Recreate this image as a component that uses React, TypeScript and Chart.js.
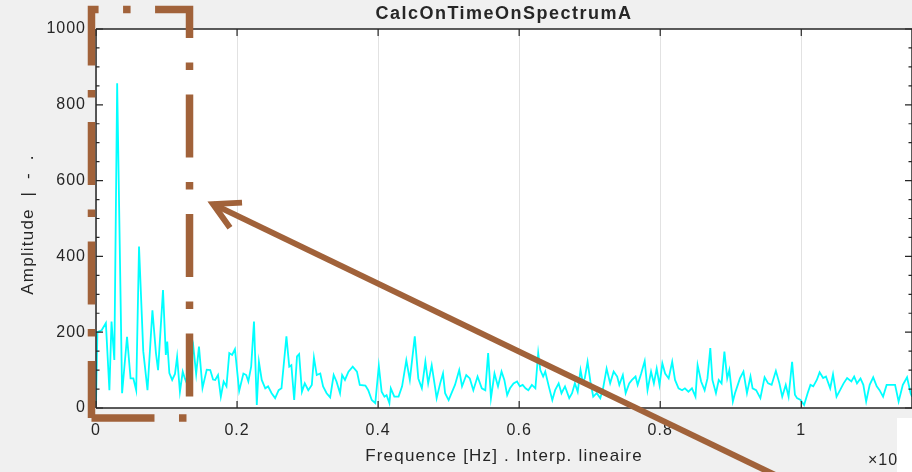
import React, { useEffect, useRef } from 'react';
import { Chart, registerables } from 'chart.js';

Chart.register(...registerables);

const TITLE = 'CalcOnTimeOnSpectrumA';
const X_LABEL = 'Frequence [Hz] . Interp. lineaire';
const Y_LABEL = 'Amplitude  |  -  .';
const X_EXPONENT = '\u00d710';
const X_EXPONENT_POWER = '4';
const X_TICKS = [0, 0.2, 0.4, 0.6, 0.8, 1];
const Y_TICKS = [0, 200, 400, 600, 800, 1000];
const Y_MINOR_STEP = 50;
const X_MAX = 1.157;

const frequency = [
  0, 0.002, 0.008, 0.014, 0.019, 0.022, 0.026, 0.03, 0.037, 0.044, 0.049, 0.053, 0.057, 0.061, 0.067, 0.073,
  0.08, 0.085, 0.088, 0.095, 0.099, 0.101, 0.104, 0.108, 0.112, 0.115, 0.119, 0.123, 0.126, 0.13, 0.133, 0.138,
  0.142, 0.146, 0.151, 0.157, 0.162, 0.166, 0.169, 0.173, 0.177, 0.181, 0.185, 0.189, 0.193, 0.197, 0.203, 0.209,
  0.213, 0.216, 0.22, 0.224, 0.228, 0.231, 0.235, 0.24, 0.244, 0.249, 0.254, 0.259, 0.263, 0.27, 0.274, 0.277,
  0.281, 0.285, 0.288, 0.292, 0.296, 0.301, 0.306, 0.309, 0.313, 0.318, 0.322, 0.327, 0.332, 0.337, 0.341, 0.346,
  0.349, 0.353, 0.358, 0.364, 0.37, 0.374, 0.382, 0.386, 0.391, 0.396, 0.401, 0.405, 0.409, 0.412, 0.416, 0.418,
  0.423, 0.429, 0.434, 0.44, 0.445, 0.452, 0.457, 0.462, 0.467, 0.471, 0.476, 0.481, 0.483, 0.488, 0.492, 0.495,
  0.5, 0.505, 0.509, 0.515, 0.519, 0.525, 0.53, 0.535, 0.541, 0.547, 0.552, 0.556, 0.56, 0.565, 0.57, 0.575,
  0.579, 0.583, 0.587, 0.592, 0.597, 0.601, 0.605, 0.609, 0.613, 0.618, 0.623, 0.627, 0.63, 0.634, 0.637, 0.642,
  0.647, 0.651, 0.656, 0.66, 0.665, 0.671, 0.675, 0.679, 0.683, 0.687, 0.69, 0.693, 0.697, 0.701, 0.705, 0.71,
  0.715, 0.719, 0.724, 0.729, 0.734, 0.739, 0.742, 0.747, 0.751, 0.756, 0.76, 0.765, 0.768, 0.773, 0.778, 0.782,
  0.787, 0.791, 0.795, 0.799, 0.803, 0.807, 0.812, 0.817, 0.821, 0.826, 0.831, 0.835, 0.84, 0.845, 0.85, 0.853,
  0.858, 0.863, 0.867, 0.871, 0.874, 0.879, 0.883, 0.887, 0.891, 0.895, 0.898, 0.903, 0.906, 0.91, 0.913, 0.918,
  0.923, 0.928, 0.931, 0.936, 0.942, 0.948, 0.953, 0.958, 0.964, 0.969, 0.973, 0.978, 0.982, 0.987, 0.991, 0.994,
  0.999, 1.004, 1.009, 1.013, 1.017, 1.022, 1.026, 1.031, 1.035, 1.041, 1.045, 1.05, 1.055, 1.06, 1.065, 1.071,
  1.075, 1.079, 1.084, 1.088, 1.092, 1.097, 1.102, 1.107, 1.111, 1.116, 1.121, 1.126, 1.133, 1.138, 1.144, 1.15,
  1.155, 1.157,
];

const amplitude = [
  10, 200, 205, 224, 47, 228, 127, 857, 39, 188, 78, 78, 47, 426, 150, 47,
  258, 145, 100, 311, 140, 175, 92, 74, 90, 135, 43, 96, 78, 60, 100, 162,
  90, 162, 53, 101, 100, 75, 74, 87, 30, 70, 57, 145, 140, 155, 45, 91,
  87, 70, 109, 228, 8, 122, 74, 52, 57, 39, 26, 47, 52, 189, 109, 113,
  21, 136, 142, 43, 65, 47, 61, 133, 87, 91, 57, 39, 28, 87, 70, 39,
  87, 74, 96, 109, 96, 61, 59, 47, 21, 13, 111, 43, 30, 34, 13, 52,
  30, 30, 57, 126, 74, 189, 78, 52, 122, 65, 113, 52, 26, 65, 91, 39,
  21, 43, 61, 100, 57, 87, 78, 47, 83, 52, 47, 145, 26, 91, 57, 96,
  74, 34, 52, 65, 70, 57, 61, 52, 47, 61, 52, 145, 100, 83, 96, 57,
  21, 47, 65, 39, 57, 26, 39, 65, 43, 100, 70, 78, 122, 70, 30, 39,
  26, 52, 104, 65, 96, 83, 61, 87, 39, 65, 74, 83, 61, 91, 124, 47,
  96, 65, 104, 61, 118, 91, 78, 122, 74, 52, 47, 52, 43, 52, 30, 113,
  70, 47, 78, 158, 74, 39, 74, 65, 149, 78, 100, 17, 39, 61, 78, 96,
  39, 83, 52, 47, 26, 81, 65, 61, 98, 65, 30, 61, 30, 122, 35, 26,
  21, 8, 39, 61, 57, 74, 94, 79, 83, 52, 89, 30, 47, 65, 79, 70,
  83, 65, 78, 61, 17, 61, 81, 57, 47, 30, 61, 61, 61, 17, 61, 81,
  39, 30,
];

// Overlay annotation (in data units of the axes)
const BOX_X = [-0.0064, 0.1326];
const BOX_Y = [-26.4, 1051.5];
const ARROW_FROM = [0.98, -192];
const ARROW_TO = [0.166, 538];

const FONT = '"Liberation Sans", Arial, Helvetica, sans-serif';
const TEXT_COLOR = '#262626';
const AXIS_COLOR = '#262626';
const ANNOT_COLOR = '#a1623a';

const matlabPlugin = {
  id: 'matlabLook',
  beforeDraw(chart: any) {
    const { ctx, chartArea: a, width, height } = chart;
    ctx.save();
    ctx.fillStyle = '#f0f0f0';
    ctx.fillRect(0, 0, width, height);
    ctx.fillStyle = '#ffffff';
    ctx.fillRect(a.left, a.top, a.right - a.left, a.bottom - a.top);
    ctx.restore();
    ctx.letterSpacing = '1px';
  },
  afterDatasetsDraw(chart: any) {
    const { ctx, chartArea: a } = chart;
    const xs = chart.scales.x;
    const ys = chart.scales.y;
    ctx.save();
    ctx.strokeStyle = AXIS_COLOR;
    ctx.lineWidth = 1.5;
    ctx.beginPath();
    ctx.moveTo(a.left, a.bottom);
    ctx.lineTo(a.right, a.bottom);
    ctx.moveTo(a.left, a.top);
    ctx.lineTo(a.right, a.top);
    ctx.moveTo(a.left, a.top);
    ctx.lineTo(a.left, a.bottom);
    ctx.moveTo(a.right, a.top);
    ctx.lineTo(a.right, a.bottom);
    ctx.stroke();
    ctx.lineWidth = 1.2;
    ctx.beginPath();
    for (const v of X_TICKS) {
      const px = xs.getPixelForValue(v);
      ctx.moveTo(px, a.bottom);
      ctx.lineTo(px, a.bottom - 7);
      ctx.moveTo(px, a.top);
      ctx.lineTo(px, a.top + 7);
    }
    const yMax = Y_TICKS[Y_TICKS.length - 1];
    for (let v = 0; v <= yMax; v += Y_MINOR_STEP) {
      const py = ys.getPixelForValue(v);
      const len = Y_TICKS.includes(v) ? 7 : 3.5;
      ctx.moveTo(a.left, py);
      ctx.lineTo(a.left + len, py);
      ctx.moveTo(a.right, py);
      ctx.lineTo(a.right - len, py);
    }
    ctx.stroke();
    ctx.restore();
  },
  afterDraw(chart: any) {
    const { ctx, chartArea: a } = chart;
    const xs = chart.scales.x;
    const ys = chart.scales.y;
    const cx = (a.left + a.right) / 2;
    ctx.save();
    ctx.fillStyle = TEXT_COLOR;
    ctx.textBaseline = 'middle';
    ctx.textAlign = 'center';
    ctx.letterSpacing = '1.5px';
    ctx.font = `bold 18px ${FONT}`;
    ctx.fillText(TITLE, cx, a.top - 15);
    ctx.letterSpacing = '1.2px';
    ctx.font = `17px ${FONT}`;
    ctx.fillText(X_LABEL, cx, a.bottom + 48);
    ctx.save();
    ctx.translate(28, (a.top + a.bottom) / 2 + 6);
    ctx.rotate(-Math.PI / 2);
    ctx.fillText(Y_LABEL, 0, 0);
    ctx.restore();
    ctx.letterSpacing = '1px';
    ctx.textAlign = 'left';
    ctx.font = `16px ${FONT}`;
    ctx.fillText(X_EXPONENT, a.right - 44, a.bottom + 53);
    ctx.font = `12px ${FONT}`;
    ctx.fillText(X_EXPONENT_POWER, a.right - 14, a.bottom + 44);
    ctx.fillStyle = '#ffffff';
    ctx.fillRect(a.right - 15, a.bottom + 10, 15, 60);

    // dash-dot rectangle annotation
    const xl = xs.getPixelForValue(BOX_X[0]);
    const xr = xs.getPixelForValue(BOX_X[1]);
    const yb = ys.getPixelForValue(BOX_Y[0]);
    const yt = ys.getPixelForValue(BOX_Y[1]);
    ctx.strokeStyle = ANNOT_COLOR;
    ctx.lineWidth = 7.5;
    ctx.lineCap = 'butt';
    ctx.lineJoin = 'miter';
    ctx.setLineDash([63, 24.5, 7.5, 24.5]);
    ctx.beginPath();
    ctx.moveTo(xl, yb);
    ctx.lineTo(xr, yb);
    ctx.lineTo(xr, yt);
    ctx.lineTo(xl, yt);
    ctx.lineTo(xl, yb);
    ctx.stroke();
    ctx.setLineDash([]);

    // arrow annotation
    const fx = xs.getPixelForValue(ARROW_FROM[0]);
    const fy = ys.getPixelForValue(ARROW_FROM[1]);
    const tx = xs.getPixelForValue(ARROW_TO[0]);
    const ty = ys.getPixelForValue(ARROW_TO[1]);
    ctx.lineWidth = 6;
    ctx.beginPath();
    ctx.moveTo(fx, fy);
    ctx.lineTo(tx, ty);
    ctx.stroke();
    const ang = Math.atan2(fy - ty, fx - tx);
    const headLen = 29;
    const spread = 0.5;
    ctx.beginPath();
    ctx.moveTo(tx + headLen * Math.cos(ang + spread), ty + headLen * Math.sin(ang + spread));
    ctx.lineTo(tx, ty);
    ctx.lineTo(tx + headLen * Math.cos(ang - spread), ty + headLen * Math.sin(ang - spread));
    ctx.stroke();
    ctx.restore();
  },
};

export default function App() {
  const canvasRef = useRef<HTMLCanvasElement | null>(null);

  useEffect(() => {
    document.body.style.margin = '0';
    document.body.style.background = '#f0f0f0';
    const canvas = canvasRef.current;
    if (!canvas) return;
    const points = frequency.map((f, i) => ({ x: f, y: amplitude[i] }));
    const chart = new Chart(canvas, {
      type: 'line',
      data: {
        datasets: [
          {
            data: points,
            borderColor: '#00ffff',
            borderWidth: 1.8,
            pointRadius: 0,
            tension: 0,
            fill: false,
          },
        ],
      },
      options: {
        responsive: false,
        maintainAspectRatio: false,
        animation: false,
        devicePixelRatio: 1,
        layout: { padding: { top: 29, left: 0, right: 0, bottom: 0 } },
        plugins: {
          legend: { display: false },
          title: { display: false },
          tooltip: { enabled: false },
        },
        scales: {
          x: {
            type: 'linear',
            position: 'bottom',
            min: 0,
            max: X_MAX,
            afterFit: (s: any) => {
              s.height = 64;
            },
            afterBuildTicks: (s: any) => {
              s.ticks = X_TICKS.map((v) => ({ value: v }));
            },
            grid: { display: true, color: '#e2e2e2', lineWidth: 1, drawTicks: false },
            border: { display: false },
            ticks: {
              autoSkip: false,
              maxRotation: 0,
              padding: 13,
              color: TEXT_COLOR,
              font: { family: FONT, size: 16 },
              callback: (v: any) => String(Math.round(Number(v) * 10) / 10),
            },
          },
          y: {
            type: 'linear',
            min: 0,
            max: 1000,
            afterFit: (s: any) => {
              s.width = 96;
            },
            afterBuildTicks: (s: any) => {
              s.ticks = Y_TICKS.map((v) => ({ value: v }));
            },
            grid: { display: false, drawTicks: false },
            border: { display: false },
            ticks: {
              padding: 10,
              color: TEXT_COLOR,
              font: { family: FONT, size: 16 },
              callback: (v: any) => String(v),
            },
          },
        },
      },
      plugins: [matlabPlugin],
    } as any);
    return () => chart.destroy();
  }, []);

  return <canvas ref={canvasRef} width={912} height={472} style={{ display: 'block' }} />;
}
